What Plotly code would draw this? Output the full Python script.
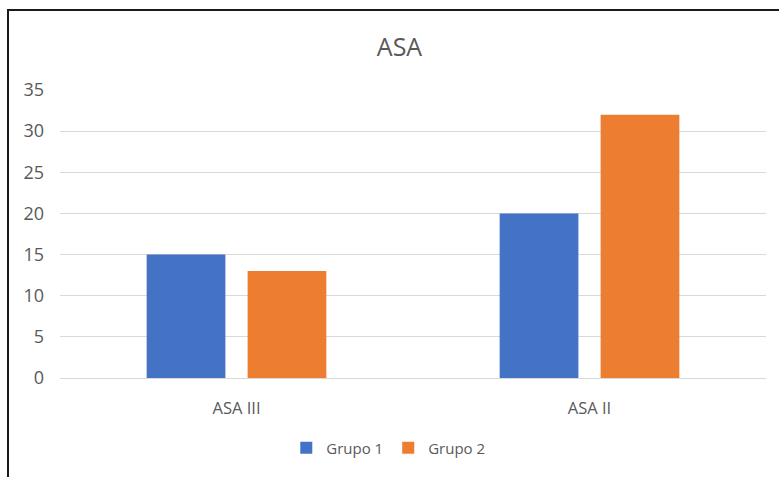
import plotly.graph_objects as go

categories = ["ASA III", "ASA II"]
grupo1 = [15, 20]
grupo2 = [13, 32]
series_names = ["Grupo 1", "Grupo 2"]
colors = ["#4472C4", "#ED7D31"]
title_text = "ASA"

fig = go.Figure()
for name, vals, c in zip(series_names, [grupo1, grupo2], colors):
    fig.add_trace(go.Bar(x=categories, y=vals, name=name, marker=dict(color=c, line=dict(width=0))))

L, R, T, B = 60, 13, 90, 99
W, H = 779, 477
pw, ph = W - L - R, H - T - B

def px_x(p):
    return (p - L) / pw

def px_y(p):
    return (H - B - p) / ph

fig.update_layout(
    width=W, height=H,
    margin=dict(l=L, r=R, t=T, b=B),
    paper_bgcolor="white", plot_bgcolor="white",
    font=dict(family="Open Sans, sans-serif", color="#595959", size=14),
    title=dict(text=title_text, xref="container", x=399.5 / W, xanchor="center",
               y=1 - 47 / H, yanchor="middle",
               font=dict(size=25, color="#595959")),
    barmode="group", bargap=0.428, bargroupgap=0.22,
    legend=dict(orientation="h", x=0.465, xanchor="center", y=px_y(448), yanchor="middle",
                font=dict(size=15, color="#595959"), traceorder="normal"),
    xaxis=dict(showgrid=False, showline=True, linecolor="#d9d9d9", linewidth=1,
               ticks="", ticklabelstandoff=15, tickfont=dict(size=16.5, color="#595959")),
    yaxis=dict(range=[0, 35], dtick=5, showgrid=True, gridcolor="#d9d9d9", gridwidth=1,
               zeroline=False, showline=False, ticks="", ticklen=0, ticklabelstandoff=15,
               tickfont=dict(size=18, color="#595959")),
    shapes=[dict(type="rect", xref="paper", yref="paper",
                 x0=px_x(8), x1=px_x(800), y0=px_y(500), y1=px_y(10),
                 line=dict(color="#1a1a1a", width=2), fillcolor="rgba(0,0,0,0)", layer="above")],
)

fig.write_html("out.html")
